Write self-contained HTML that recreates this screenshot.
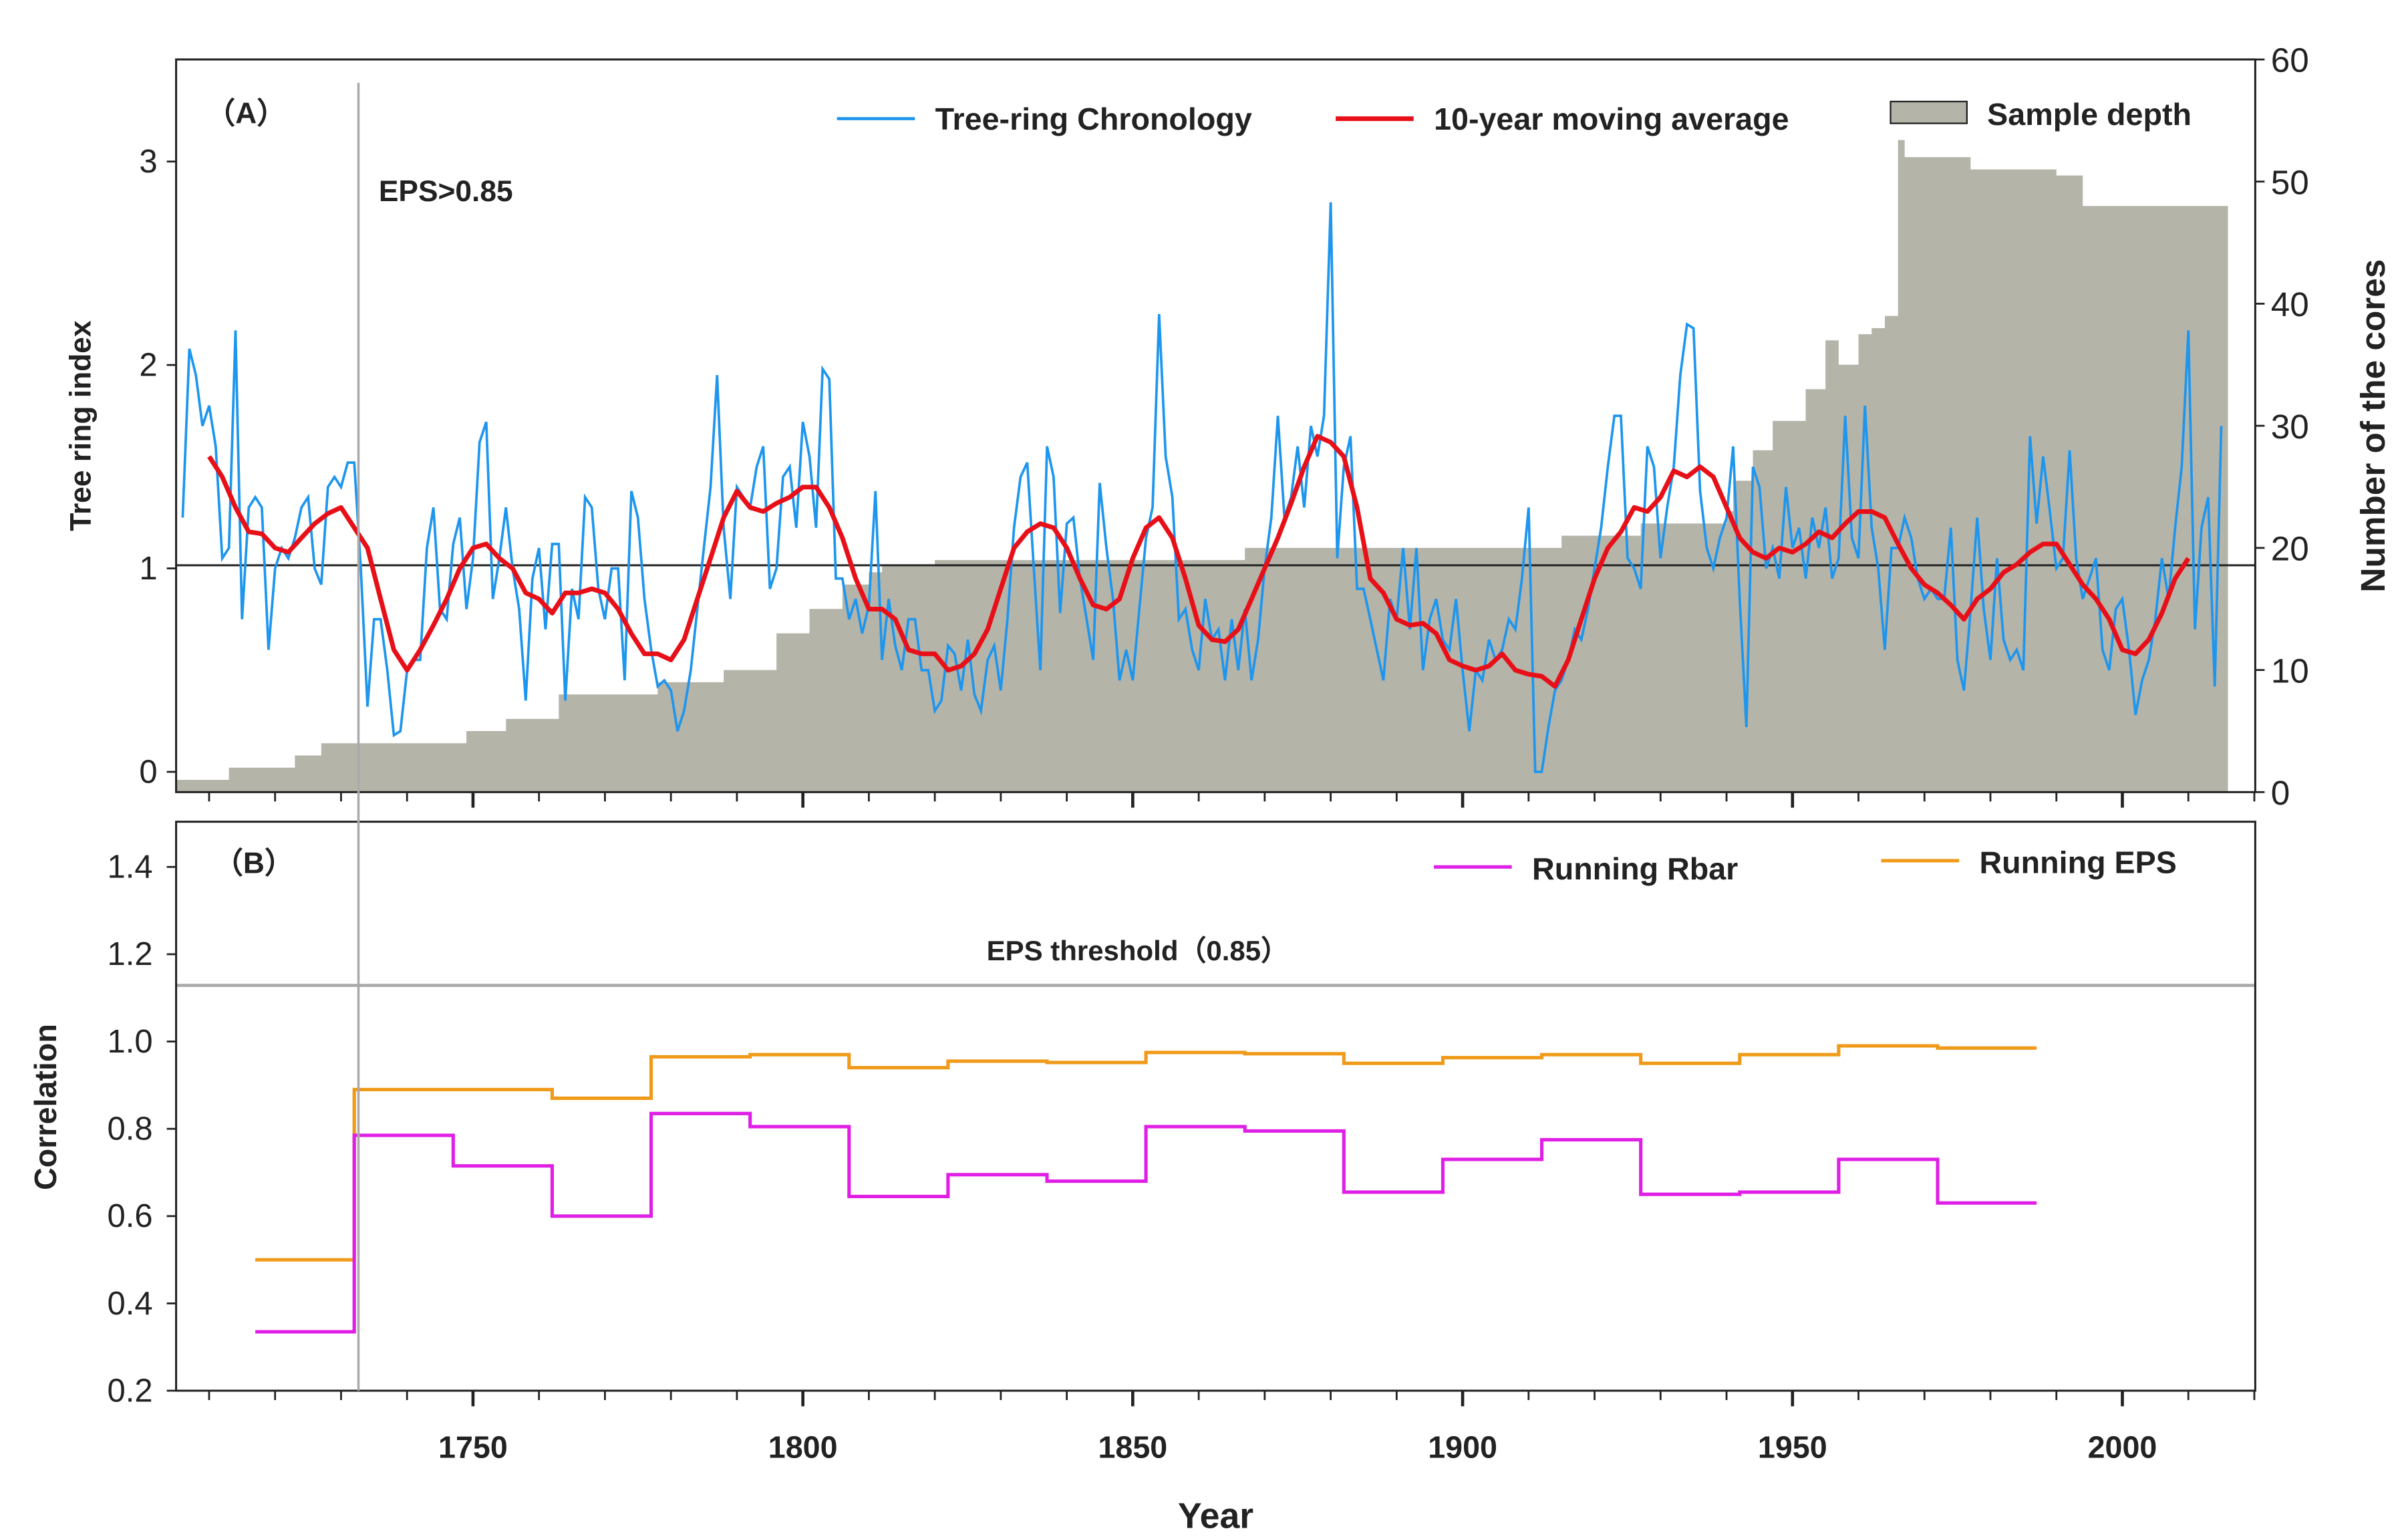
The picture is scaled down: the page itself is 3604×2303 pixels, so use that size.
<!DOCTYPE html>
<html><head><meta charset="utf-8"><style>
html,body{margin:0;padding:0;background:#fff;}
svg{display:block;font-family:"Liberation Sans",sans-serif;}
</style></head><body>
<svg id="chart" width="3604" height="2303" viewBox="0 0 1545 987" xmlns="http://www.w3.org/2000/svg">
<rect x="0" y="0" width="1545" height="987" fill="#fff"/>
<g id="gA"></g>
<g id="gB"></g>
</svg>
<script>
// ---- Panel A data ----
const chronStartYear = 1706;
const chronology = [
1.25,2.08,1.95,1.7,1.8,1.6,1.05,1.1,2.17,0.75,
1.3,1.35,1.3,0.6,1.0,1.1,1.05,1.15,1.3,1.35,
1.0,0.92,1.4,1.45,1.4,1.52,1.52,1.0,0.32,0.75,
0.75,0.5,0.18,0.2,0.5,0.55,0.55,1.1,1.3,0.8,
0.75,1.12,1.25,0.8,1.05,1.62,1.72,0.85,1.05,1.3,
1.0,0.8,0.35,0.95,1.1,0.7,1.12,1.12,0.35,0.9,
0.75,1.35,1.3,0.9,0.75,1.0,1.0,0.45,1.38,1.25,
0.85,0.6,0.42,0.45,0.4,0.2,0.3,0.5,0.8,1.1,
1.4,1.95,1.2,0.85,1.4,1.35,1.3,1.5,1.6,0.9,
1.0,1.45,1.5,1.2,1.72,1.55,1.2,1.98,1.93,0.95,
0.95,0.75,0.85,0.68,0.82,1.38,0.55,0.85,0.62,0.5,
0.75,0.75,0.5,0.5,0.3,0.35,0.62,0.58,0.4,0.65,
0.38,0.3,0.55,0.62,0.4,0.75,1.2,1.45,1.52,1.0,
0.5,1.6,1.45,0.78,1.22,1.25,0.95,0.75,0.55,1.42,
1.1,0.85,0.45,0.6,0.45,0.8,1.15,1.3,2.25,1.55,
1.35,0.75,0.8,0.6,0.5,0.85,0.65,0.7,0.45,0.75,
0.5,0.8,0.45,0.65,1.0,1.25,1.75,1.25,1.35,1.6,
1.3,1.7,1.55,1.75,2.8,1.05,1.5,1.65,0.9,0.9,
0.75,0.6,0.45,0.85,0.75,1.1,0.7,1.1,0.5,0.75,
0.85,0.65,0.6,0.85,0.5,0.2,0.5,0.45,0.65,0.55,
0.6,0.75,0.7,0.95,1.3,0.0,0.0,0.22,0.4,0.45,
0.55,0.7,0.65,0.8,1.0,1.2,1.5,1.75,1.75,1.05,
1.0,0.9,1.6,1.5,1.05,1.3,1.5,1.95,2.2,2.18,
1.38,1.1,1.0,1.15,1.25,1.6,0.85,0.22,1.5,1.4,
1.0,1.1,0.95,1.4,1.1,1.2,0.95,1.25,1.1,1.3,
0.95,1.05,1.75,1.15,1.05,1.8,1.2,1.0,0.6,1.1,
1.1,1.25,1.15,0.95,0.85,0.9,0.85,0.85,1.2,0.55,
0.4,0.8,1.25,0.8,0.55,1.05,0.65,0.55,0.6,0.5,
1.65,1.22,1.55,1.28,1.0,1.05,1.58,1.05,0.85,0.95,
1.05,0.6,0.5,0.8,0.85,0.6,0.28,0.45,0.55,0.75,
1.05,0.85,1.2,1.5,2.17,0.7,1.2,1.35,0.42,1.7];
const maStartYear = 1710;
const maStep = 2;
const movingAvg = [
1.55,1.45,1.3,1.18,1.17,1.1,1.08,1.15,1.22,1.27,1.3,1.2,1.1,0.85,0.6,0.5,0.6,0.72,0.85,1.0,
1.1,1.12,1.05,1.0,0.88,0.85,0.78,0.88,0.88,0.9,0.88,0.8,0.68,0.58,0.58,0.55,0.65,0.85,1.05,1.25,
1.38,1.3,1.28,1.32,1.35,1.4,1.4,1.3,1.15,0.95,0.8,0.8,0.75,0.6,0.58,0.58,0.5,0.52,0.58,0.7,
0.9,1.1,1.18,1.22,1.2,1.1,0.95,0.82,0.8,0.85,1.05,1.2,1.25,1.15,0.95,0.72,0.65,0.64,0.7,0.85,
1.0,1.15,1.32,1.5,1.65,1.62,1.55,1.3,0.95,0.88,0.75,0.72,0.73,0.68,0.55,0.52,0.5,0.52,0.58,0.5,
0.48,0.47,0.42,0.55,0.75,0.95,1.1,1.18,1.3,1.28,1.35,1.48,1.45,1.5,1.45,1.3,1.15,1.08,1.05,1.1,
1.08,1.12,1.18,1.15,1.22,1.28,1.28,1.25,1.12,1.0,0.92,0.88,0.82,0.75,0.85,0.9,0.98,1.02,1.08,1.12,
1.12,1.02,0.92,0.85,0.75,0.6,0.58,0.65,0.78,0.95,1.05];
const depthYears = [1705,1713,1723,1727,1749,1755,1763,1778,1788,1796,1801,1806,1810,1812,1820,1867,1915,1927,1940,1941,1944,1947,1952,1955,1957,1960,1962,1964,1966,1967,1977,1990,1994];
const depthCores = [1,2,3,4,5,6,8,9,10,13,15,17,18,18.5,19,20,21,22,23,25.5,28,30.4,33,37,35,37.5,38,39,53.4,52,51,50.5,48];
const depthEndYear = 2016;
const xTickYears = [1750,1800,1850,1900,1950,2000];
const leftTicks = [0,1,2,3];
const rightTicks = [0,10,20,30,40,50,60];
// ---- Panel B data ----
const windowStarts = [1717,1732,1747,1762,1777,1792,1807,1822,1837,1852,1867,1882,1897,1912,1927,1942,1957,1972];
const windowEnd = 1987;
const runningEPS = [0.5,0.89,0.89,0.87,0.965,0.97,0.94,0.955,0.952,0.975,0.972,0.95,0.963,0.97,0.95,0.97,0.99,0.985];
const runningRbar = [0.335,0.785,0.715,0.6,0.835,0.805,0.645,0.695,0.68,0.805,0.795,0.655,0.73,0.775,0.65,0.655,0.73,0.63];
const bTicks = [0.2,0.4,0.6,0.8,1.0,1.2,1.4];

const NS='http://www.w3.org/2000/svg';
function mk(parent,tag,attrs,text){const e=document.createElementNS(NS,tag);for(const k in attrs)e.setAttribute(k,attrs[k]);if(text!==undefined)e.textContent=text;parent.appendChild(e);return e;}
const L=113,R=1447;
const X=y=>113+(y-1705)*4.233;
const YA=v=>495-v*130.5;
const YD=c=>508-c*7.833;
const YB=v=>892-(v-0.2)*280;
const gA=document.getElementById('gA'), gB=document.getElementById('gB');

// sample depth area
let d='M'+X(depthYears[0])+','+YD(0);
for(let i=0;i<depthYears.length;i++){const x0=X(depthYears[i]);const x1=X(i+1<depthYears.length?depthYears[i+1]:depthEndYear);d+=' L'+x0+','+YD(depthCores[i])+' L'+x1+','+YD(depthCores[i]);}
d+=' L'+X(depthEndYear)+','+YD(0)+' Z';
const area=mk(gA,'path',{d:d,fill:'#b5b4a9'});


// reference line at 1
const ref=mk(gA,'line',{x1:L,x2:R,y1:YA(1)-2,y2:YA(1)-2,stroke:'#222','stroke-width':1.3});


// chronology
let pts=chronology.map((v,i)=>X(chronStartYear+i).toFixed(1)+','+YA(v).toFixed(1)).join(' ');
const chron=mk(gA,'polyline',{points:pts,fill:'none',stroke:'#1e96ee','stroke-width':1.6});


pts=movingAvg.map((v,i)=>X(maStartYear+i*maStep).toFixed(1)+','+YA(v).toFixed(1)).join(' ');
const ma=mk(gA,'polyline',{points:pts,fill:'none',stroke:'#e81018','stroke-width':3,'stroke-linejoin':'round'});


// frame A
const fa=mk(gA,'rect',{x:L,y:38,width:R-L,height:470,fill:'none',stroke:'#222','stroke-width':1.3});


// x ticks on A bottom
for(let yr=1710;yr<=2020;yr+=10){const major=yr%50===0;mk(gA,'line',{x1:X(yr),x2:X(yr),y1:508,y2:major?518:514,stroke:'#222','stroke-width':major?2:1.2});}
// left ticks
leftTicks.forEach(v=>{mk(gA,'line',{x1:L-6,x2:L,y1:YA(v),y2:YA(v),stroke:'#222','stroke-width':1.2});
const t=mk(gA,'text',{x:L-12,y:YA(v)+7,'text-anchor':'end','font-size':21,fill:'#222'},String(v));

});
rightTicks.forEach(v=>{mk(gA,'line',{x1:R,x2:R+6,y1:YD(v),y2:YD(v),stroke:'#222','stroke-width':1.2});
const t=mk(gA,'text',{x:R+10,y:YD(v)+8,'font-size':22,fill:'#222'},String(v));

});

// Panel B
const th=mk(gB,'line',{x1:L,x2:R,y1:632,y2:632,stroke:'#aaa','stroke-width':2});


function stepPath(vals){let s='';vals.forEach((v,i)=>{const x0=X(windowStarts[i]);const x1=X(i+1<windowStarts.length?windowStarts[i+1]:windowEnd);s+=(i===0?'M':' L')+x0+','+YB(v)+' L'+x1+','+YB(v);});return s;}
const eps=mk(gB,'path',{d:stepPath(runningEPS),fill:'none',stroke:'#f09a1a','stroke-width':2.2});


const rb=mk(gB,'path',{d:stepPath(runningRbar),fill:'none',stroke:'#e01fe6','stroke-width':2.2});


const fb=mk(gB,'rect',{x:L,y:527,width:R-L,height:365,fill:'none',stroke:'#222','stroke-width':1.3});


bTicks.forEach(v=>{mk(gB,'line',{x1:L-6,x2:L,y1:YB(v),y2:YB(v),stroke:'#222','stroke-width':1.2});
const t=mk(gB,'text',{x:L-15,y:YB(v)+7,'text-anchor':'end','font-size':21,fill:'#222'},v.toFixed(1));

});
for(let yr=1710;yr<=2020;yr+=10){const major=yr%50===0;mk(gB,'line',{x1:X(yr),x2:X(yr),y1:892,y2:major?902:898,stroke:'#222','stroke-width':major?2:1.2});}
xTickYears.forEach(yr=>{const t=mk(gB,'text',{x:X(yr),y:935,'text-anchor':'middle','font-size':20,'font-weight':'bold',fill:'#222'},String(yr));

});
// vertical EPS line
const vl=mk(gB,'line',{x1:230,x2:230,y1:53,y2:892,stroke:'#aaa','stroke-width':1.5});


</script>
<svg style="position:absolute;left:0;top:0" width="3604" height="2303" viewBox="0 0 1545 987" xmlns="http://www.w3.org/2000/svg" font-family="Liberation Sans, sans-serif" fill="#222">
<text x="132" y="79" font-size="19" font-weight="bold">（A）</text>
<text x="243" y="129" font-size="19" font-weight="bold">EPS&gt;0.85</text>
<g>
<line x1="537" x2="587" y1="76" y2="76" stroke="#1e96ee" stroke-width="2"/>
<text x="600" y="83" font-size="20" font-weight="bold">Tree-ring Chronology</text>
<line x1="857" x2="907" y1="76" y2="76" stroke="#e81018" stroke-width="3"/>
<text x="920" y="83" font-size="20" font-weight="bold">10-year moving average</text>
<rect x="1213" y="65" width="49" height="14" fill="#b5b4a9" stroke="#222" stroke-width="1"/>
<text x="1275" y="80" font-size="20" font-weight="bold">Sample depth</text>
</g>
<text transform="translate(58,273) rotate(-90)" text-anchor="middle" font-size="19" font-weight="bold">Tree ring index</text>
<text transform="translate(1530,273) rotate(-90)" text-anchor="middle" font-size="22" font-weight="bold">Number of the cores</text>
<text x="137" y="560" font-size="19" font-weight="bold">（B）</text>
<g>
<line x1="920" x2="970" y1="556" y2="556" stroke="#e01fe6" stroke-width="2.2"/>
<text x="983" y="564" font-size="20" font-weight="bold">Running Rbar</text>
<line x1="1207" x2="1257" y1="552" y2="552" stroke="#f09a1a" stroke-width="2.2"/>
<text x="1270" y="560" font-size="20" font-weight="bold">Running EPS</text>
</g>
<text x="730" y="616" text-anchor="middle" font-size="18" font-weight="bold">EPS threshold（0.85）</text>
<text transform="translate(36,710) rotate(-90)" text-anchor="middle" font-size="20" font-weight="bold">Correlation</text>
<text x="780" y="980" text-anchor="middle" font-size="23" font-weight="bold">Year</text>
</svg>
</body></html>
